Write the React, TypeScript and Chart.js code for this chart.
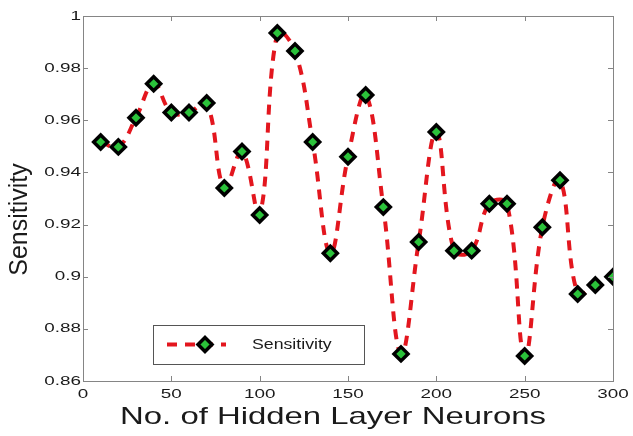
import React, { useEffect, useRef } from "react";
import { Chart, registerables } from "chart.js";

Chart.register(...registerables);

const neurons = [10, 20, 30, 40, 50, 60, 70, 80, 90, 100, 110, 120, 130, 140, 150, 160, 170, 180, 190, 200, 210, 220, 230, 240, 250, 260, 270, 280, 290, 300];
const sensitivity = [0.9517, 0.9498, 0.961, 0.974, 0.963, 0.963, 0.9666, 0.934, 0.948, 0.9237, 0.9935, 0.9866, 0.9517, 0.909, 0.946, 0.9697, 0.9267, 0.8704, 0.9133, 0.9555, 0.910, 0.910, 0.928, 0.928, 0.8696, 0.919, 0.937, 0.8934, 0.8968, 0.900];
const seriesLabel = "Sensitivity";
const xTitle = "No. of Hidden Layer Neurons";
const yTitle = "Sensitivity";

const FONT = "'Liberation Sans', Arial, sans-serif";
const LINE_RED = "#e3161e";
const MARKER_GREEN = "#2bc23a";
const AXIS_GRAY = "#858585";
const TEXT = "#1a1a1a";

const fmt = (v: number) => String(Number(Number(v).toFixed(2)));

function stretchedText(ctx: any, text: string, x: number, y: number, sx: number, align: string, baseline: string, rot = 0) {
  ctx.save();
  ctx.translate(x, y);
  if (rot) ctx.rotate(rot);
  ctx.scale(sx, 1);
  ctx.textAlign = align;
  ctx.textBaseline = baseline;
  ctx.fillText(text, 0, 0);
  ctx.restore();
}

const framePlugin = {
  id: "frame",
  afterDraw(chart: any) {
    const { ctx, chartArea: a, scales } = chart;
    const xs = scales.x;
    const ys = scales.y;
    ctx.save();
    ctx.strokeStyle = AXIS_GRAY;
    ctx.lineWidth = 1;
    ctx.strokeRect(Math.round(a.left) + 0.5, Math.round(a.top) + 0.5, Math.round(a.right - a.left), Math.round(a.bottom - a.top));
    const tl = 5;
    ctx.beginPath();
    xs.ticks.forEach((t: any) => {
      const px = Math.round(xs.getPixelForValue(t.value)) + 0.5;
      ctx.moveTo(px, a.bottom);
      ctx.lineTo(px, a.bottom - tl);
      ctx.moveTo(px, a.top);
      ctx.lineTo(px, a.top + tl);
    });
    ys.ticks.forEach((t: any) => {
      const py = Math.round(ys.getPixelForValue(t.value)) + 0.5;
      ctx.moveTo(a.left, py);
      ctx.lineTo(a.left + tl, py);
      ctx.moveTo(a.right, py);
      ctx.lineTo(a.right - tl, py);
    });
    ctx.stroke();

    // tick labels
    ctx.fillStyle = TEXT;
    ctx.font = `13px ${FONT}`;
    xs.ticks.forEach((t: any) => {
      stretchedText(ctx, fmt(t.value), xs.getPixelForValue(t.value), a.bottom + 13, 1.45, "center", "middle");
    });
    ys.ticks.forEach((t: any) => {
      stretchedText(ctx, fmt(t.value), a.left - 2, ys.getPixelForValue(t.value), 1.45, "right", "middle");
    });

    // axis titles
    ctx.font = `24px ${FONT}`;
    stretchedText(ctx, xTitle, (a.left + a.right) / 2 - 15, a.bottom + 43, 1.37, "center", "alphabetic");
    ctx.font = `25px ${FONT}`;
    stretchedText(ctx, yTitle, 27, (a.top + a.bottom) / 2 + 21, 1, "center", "alphabetic", -Math.PI / 2);

    // legend box
    const bx = a.left + 70;
    const by = a.bottom - 56;
    const bw = 211;
    const bh = 39;
    ctx.fillStyle = "#ffffff";
    ctx.fillRect(bx, by, bw, bh);
    ctx.strokeStyle = "#555555";
    ctx.lineWidth = 1;
    ctx.strokeRect(Math.round(bx) + 0.5, Math.round(by) + 0.5, bw, bh);
    const ly = by + bh / 2;
    ctx.strokeStyle = LINE_RED;
    ctx.lineWidth = 4;
    ctx.setLineDash([10, 8]);
    ctx.beginPath();
    ctx.moveTo(bx + 14, ly);
    ctx.lineTo(bx + 73, ly);
    ctx.stroke();
    ctx.setLineDash([]);
    const mx = bx + 52;
    const r = 7;
    ctx.beginPath();
    ctx.moveTo(mx, ly - r);
    ctx.lineTo(mx + r, ly);
    ctx.lineTo(mx, ly + r);
    ctx.lineTo(mx - r, ly);
    ctx.closePath();
    ctx.fillStyle = MARKER_GREEN;
    ctx.fill();
    ctx.strokeStyle = "#000000";
    ctx.lineWidth = 3.5;
    ctx.stroke();
    ctx.fillStyle = TEXT;
    ctx.font = `15px ${FONT}`;
    stretchedText(ctx, seriesLabel, bx + 99, ly, 1.18, "left", "middle");
    ctx.restore();
  },
};

export default function App() {
  const ref = useRef<HTMLCanvasElement | null>(null);
  useEffect(() => {
    if (!ref.current) return;
    const chart = new Chart(ref.current, {
      type: "line",
      data: {
        labels: neurons,
        datasets: [
          {
            label: seriesLabel,
            data: neurons.map((n, i) => ({ x: n, y: sensitivity[i] })),
            borderColor: LINE_RED,
            borderWidth: 4,
            borderDash: [10, 8],
            tension: 0.4,
            fill: false,
            pointStyle: "rectRot",
            pointRadius: 7,
            pointBorderWidth: 3.5,
            pointBackgroundColor: MARKER_GREEN,
            pointBorderColor: "#000000",
          },
        ],
      },
      options: {
        animation: false,
        responsive: false,
        layout: { padding: { left: 0, right: 20, top: 16, bottom: 0 } },
        plugins: { legend: { display: false }, tooltip: { enabled: false } },
        scales: {
          x: {
            type: "linear",
            min: 0,
            max: 300,
            grid: { display: false, drawTicks: false },
            border: { display: false },
            ticks: { stepSize: 50, display: false },
            afterFit: (s: any) => {
              s.height = 55;
            },
          },
          y: {
            min: 0.86,
            max: 1,
            grid: { display: false, drawTicks: false },
            border: { display: false },
            ticks: { stepSize: 0.02, display: false },
            afterFit: (s: any) => {
              s.width = 83;
            },
          },
        },
      },
      plugins: [framePlugin],
    });
    return () => chart.destroy();
  }, []);
  return (
    <div style={{ position: "fixed", left: 0, top: 0, width: 633, height: 436, background: "#ffffff" }}>
      <canvas ref={ref} width={633} height={436} style={{ display: "block" }} />
    </div>
  );
}
